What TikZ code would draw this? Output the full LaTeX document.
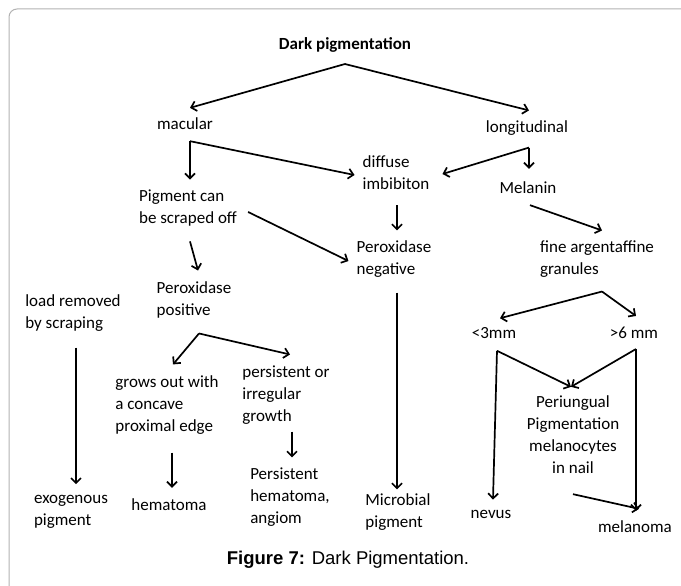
\documentclass[tikz,border=0pt]{standalone}
\usepackage{fontspec}
\setmainfont{Carlito}
\newfontfamily\capfont{Liberation Sans}
\usetikzlibrary{arrows.meta,calc}

\begin{document}
\begin{tikzpicture}[x=1pt,y=-1pt,
    lbl/.style={inner sep=1pt, align=left, font=\fontsize{17}{22}\selectfont},
    arr/.style={line width=1.7pt, -{Straight Barb[length=5pt,width=10pt]}}]

    \useasboundingbox (0,0) rectangle (681,586);
    \draw[black!30, line width=1pt, rounded corners=8pt] (9,586) -- (9,9) -- (681,9);

    % labels
    \node[lbl, font=\fontsize{17}{22}\selectfont\bfseries] (dark) at (345,45) {Dark pigmentation};
    \node[lbl] (mac) at (185,124) {macular};
    \node[lbl] (lon) at (527,128) {longitudinal};
    \node[lbl] (dif) at (396,173) {diffuse\\imbibiton};
    \node[lbl] (mel) at (528,188) {Melanin};
    \node[lbl] (pig) at (188,208) {Pigment can\\be scraped off};
    \node[lbl] (neg) at (394,259) {Peroxidase\\negative};
    \node[lbl] (fine) at (597,259) {fine argentaffine\\granules};
    \node[lbl] (pos) at (194,300) {Peroxidase\\positive};
    \node[lbl] (load) at (73,313) {load removed\\by scraping};
    \node[lbl] (lt3) at (494,333) {<3mm};
    \node[lbl] (gt6) at (634,333) {>6 mm};
    \node[lbl] (grow) at (167,405) {grows out with\\a concave\\proximal edge};
    \node[lbl] (pers) at (286,395) {persistent or\\irregular\\growth};
    \node[lbl, align=center] (peri) at (573,435) {Periungual\\Pigmentation\\melanocytes\\in nail};
    \node[lbl] (hema) at (169,505) {hematoma};
    \node[lbl] (phem) at (290,497) {Persistent\\hematoma,\\angiom};
    \node[lbl] (exo) at (71,512) {exogenous\\pigment};
    \node[lbl] (micro) at (398,512) {Microbial\\pigment};
    \node[lbl] (nev) at (491,514) {nevus};
    \node[lbl] (melo) at (635,527) {melanoma};
    \node[font=\capfont\fontsize{18.5}{22}\selectfont] (cap) at (348,560) {\textbf{Figure 7:} Dark Pigmentation.};

    % forks
    \coordinate (topfork) at (345,64);
    \coordinate (macfork) at ($(mac.south)+(5,10)$);
    \coordinate (lonfork) at ($(lon.south)+(2,11)$);
    \coordinate (finefork) at ($(fine.south)+(5,13)$);
    \coordinate (lt3fork) at ($(lt3.south)+(3,11)$);
    \coordinate (gt6fork) at ($(gt6.south)+(2,9)$);
    \coordinate (posfork) at ($(pos.south)+(5,14)$);

    % arrows
    \draw[arr] (topfork) -- ($(mac.north)+(5,-9)$);
    \draw[arr] (topfork) -- ($(lon.north)+(2,-9)$);
    \draw[arr] (macfork) -- ($(macfork |- pig.north)+(0,-9)$);
    \draw[arr] (macfork) -- ($(dif.west)+(-7,2)$);
    \draw[arr] (lonfork) -- ($(dif.east)+(12,1)$);
    \draw[arr] (lonfork) -- ($(lonfork |- mel.north)+(0,-12)$);
    \draw[arr] ($(pig.east)+(10,4)$) -- ($(neg.west)+(-7,2)$);
    \draw[arr] ($(pig.south)+(2,14)$) -- ($(pos.north)+(4,-10)$);
    \draw[arr] ($(dif.south)+(1,14)$) -- ($(neg.north)+(3,-9)$);
    \draw[arr] ($(mel.south)+(2,10)$) -- ($(fine.north)+(5,-9)$);
    \draw[arr] (finefork) -- ($(lt3.north)+(6,-8)$);
    \draw[arr] (finefork) -- ($(gt6.north)+(2,-10)$);
    \draw[arr] (lt3fork) -- ($(nev.north)+(2,-9)$);
    \draw[arr] (lt3fork) -- ($(peri.north)+(-2,-8)$);
    \draw[arr] (gt6fork) -- ($(melo.north)+(1,-9)$);
    \draw[arr] (gt6fork) -- ($(peri.north)+(-2,-8)$);
    \draw[arr] ($(peri.south)+(0,19)$) -- ($(melo.north)+(4,-11)$);
    \draw[arr] (posfork) -- ($(grow.north)+(6,-10)$);
    \draw[arr] (posfork) -- ($(pers.north)+(4,-10)$);
    \draw[arr] ($(grow.south)+(5,17)$) -- ($(hema.north)+(3,-10)$);
    \draw[arr] ($(pers.south)+(6,6)$) -- ($(phem.north)+(2,-9)$);
    \draw[arr] ($(load.south)+(3,15)$) -- ($(exo.north)+(5,-10)$);
    \draw[arr] ($(neg.south)+(3,14)$) -- ($(micro.north)+(-1,-3)$);
\end{tikzpicture}
\end{document}
